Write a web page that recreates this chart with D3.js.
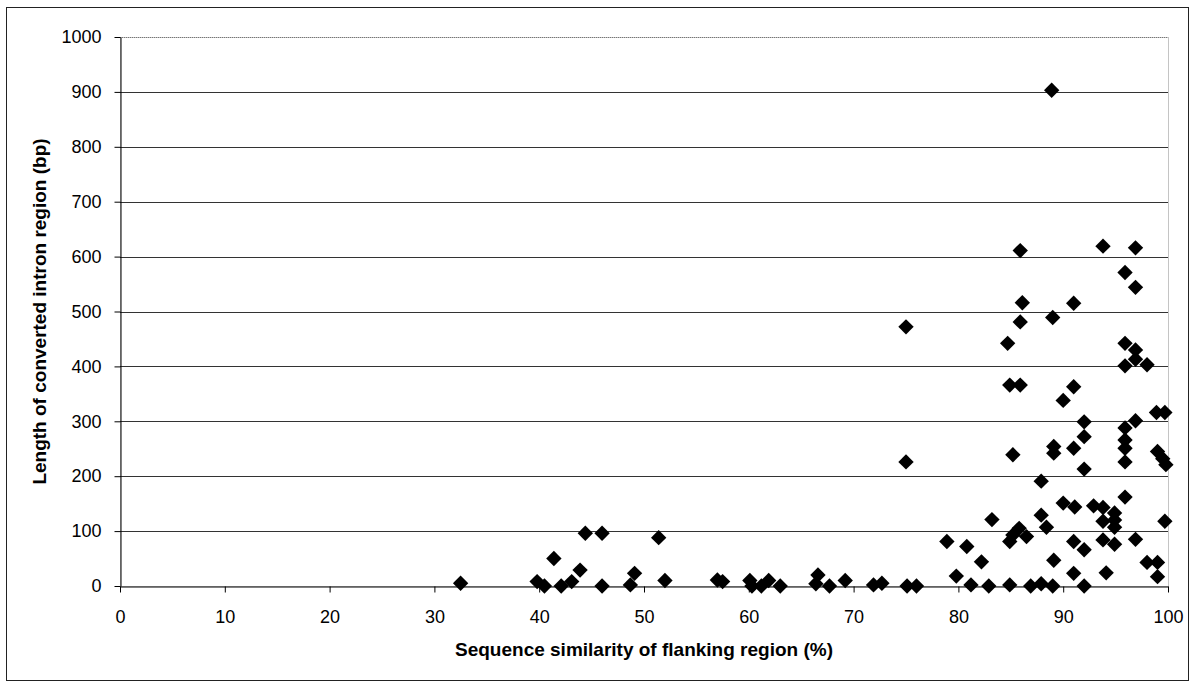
<!DOCTYPE html>
<html>
<head>
<meta charset="utf-8">
<script src="https://cdn.jsdelivr.net/npm/d3@7"></script>
<style>
  body { margin: 0; background: #fff; }
  text { font-family: "Liberation Sans", Arial, sans-serif; }
</style>
</head>
<body>
<div id="chart"></div>
<script>
// similarity (%) of flanking region
var similarity = [
    32.5, 39.8, 40.5, 41.4, 42.1, 43.1, 43.9, 44.4, 46.0, 46.0,
    48.7, 49.1, 51.4, 52.0, 57.0, 57.5, 60.1, 60.3, 61.2, 61.9,
    63.0, 66.6, 66.4, 67.7, 69.2, 71.9, 72.7, 75.0, 75.0, 75.1,
    76.0, 78.9, 79.8, 80.8, 81.2, 82.2, 82.9, 83.2,
    84.7, 84.9, 85.9, 85.2, 84.9, 85.2, 85.8, 86.5, 84.9, 85.9, 86.1, 85.9, 86.9,
    87.9, 87.9, 88.4, 87.9, 88.9, 89.0, 89.1, 89.1, 89.1, 89.0, 90.0, 90.0,
    91.0, 91.0, 91.0, 91.1, 91.0, 91.0, 92.0, 92.0, 92.0, 92.0, 92.0, 92.9,
    93.8, 93.8, 93.8, 93.8, 94.1, 94.9, 94.9, 94.9, 94.9,
    95.9, 95.9, 95.9, 95.9, 95.9, 95.9, 95.9, 95.9,
    96.9, 96.9, 96.9, 96.9, 96.9, 96.9,
    98.0, 98.0, 98.9, 99.7, 99.0, 99.5, 99.8, 99.7, 99.0, 99.0
];
// length of converted intron region (bp)
var intronLength = [
    5, 8, 0, 50, 0, 8, 29, 96, 96, 0,
    2, 23, 88, 10, 11, 8, 10, 0, 0, 10,
    0, 20, 4, 0, 10, 2, 5, 472, 226, 0,
    0, 81, 18, 72, 2, 44, 0, 121,
    442, 366, 366, 239, 81, 93, 105, 90, 2, 481, 516, 611, 0,
    4, 129, 107, 191, 903, 489, 254, 242, 47, 0, 338, 151,
    515, 363, 251, 144, 81, 23, 299, 272, 213, 66, 0, 146,
    619, 143, 118, 84, 24, 133, 120, 107, 76,
    571, 442, 401, 288, 266, 251, 226, 162,
    616, 544, 430, 413, 301, 85,
    403, 43, 316, 316, 245, 232, 221, 118, 43, 17
];
var xTicks = [0, 10, 20, 30, 40, 50, 60, 70, 80, 90, 100];
var yTicks = [0, 100, 200, 300, 400, 500, 600, 700, 800, 900, 1000];

var points = similarity.map(function (d, i) {
    return {x: d, y: intronLength[i]};
});

var width = 1195, height = 684;
var plotLeft = 120, plotRight = 1168, plotTop = 37, plotBottom = 586;

var svg = d3.select("#chart").append("svg")
    .attr("width", width)
    .attr("height", height);

// outer chart frame
svg.append("rect")
    .attr("x", 6.5).attr("y", 7.5)
    .attr("width", 1182).attr("height", 673)
    .attr("fill", "none")
    .attr("stroke", "#222")
    .attr("stroke-width", 1);

var xScale = d3.scaleLinear().domain([0, 100]).range([plotLeft, plotRight]);
var yScale = d3.scaleLinear().domain([0, 1000]).range([plotBottom, plotTop]);

// plot area border (dotted)
svg.append("rect")
    .attr("x", plotLeft + 0.5).attr("y", plotTop + 0.5)
    .attr("width", plotRight - plotLeft).attr("height", plotBottom - plotTop)
    .attr("fill", "none")
    .attr("stroke", "#888")
    .attr("stroke-width", 1)
    .attr("stroke-dasharray", "1,1");

// gridlines
svg.append("g").selectAll("line")
    .data(yTicks.filter(function (d) { return d > 0; }))
    .enter().append("line")
    .attr("x1", plotLeft).attr("x2", plotRight)
    .attr("y1", function (d) { return Math.round(yScale(d)) + 0.5; })
    .attr("y2", function (d) { return Math.round(yScale(d)) + 0.5; })
    .attr("stroke", function (d) { return d == 1000 ? "#777" : "#333"; })
    .attr("stroke-dasharray", function (d) { return d == 1000 ? "1,1" : null; })
    .attr("stroke-width", 1);

var xAxis = d3.axisBottom(xScale)
    .tickValues(xTicks)
    .tickFormat(d3.format("d"))
    .tickSize(6)
    .tickSizeOuter(0)
    .tickPadding(18);
var gx = svg.append("g")
    .attr("transform", "translate(0," + (plotBottom + 0.5) + ")")
    .call(xAxis);
gx.selectAll("text").attr("font-size", 18).attr("fill", "#000")
    .style("font-family", "'Liberation Sans', Arial, sans-serif");
gx.selectAll("line, path").attr("stroke", "#000");

var yAxis = d3.axisLeft(yScale)
    .tickValues(yTicks)
    .tickFormat(d3.format("d"))
    .tickSize(6)
    .tickSizeOuter(0)
    .tickPadding(13);
var gy = svg.append("g")
    .attr("transform", "translate(" + (plotLeft + 0.5) + ",0)")
    .call(yAxis);
gy.selectAll("text").attr("font-size", 18).attr("fill", "#000")
    .style("font-family", "'Liberation Sans', Arial, sans-serif");
gy.selectAll("line, path").attr("stroke", "#000");

// markers
var diamond = d3.symbol().type(d3.symbolSquare).size(118);
svg.append("g").selectAll("path")
    .data(points)
    .enter().append("path")
    .attr("d", diamond)
    .attr("transform", function (d) {
        return "translate(" + xScale(d.x) + "," + yScale(d.y) + ") rotate(45)";
    })
    .attr("fill", "#000");

// axis titles
svg.append("text")
    .attr("x", (plotLeft + plotRight) / 2)
    .attr("y", 656)
    .attr("text-anchor", "middle")
    .attr("font-size", 19)
    .attr("font-weight", "bold")
    .text("Sequence similarity of flanking region (%)");

svg.append("text")
    .attr("transform", "translate(46," + ((plotTop + plotBottom) / 2) + ") rotate(-90)")
    .attr("text-anchor", "middle")
    .attr("font-size", 19)
    .attr("font-weight", "bold")
    .text("Length of converted intron region (bp)");
</script>
</body>
</html>
